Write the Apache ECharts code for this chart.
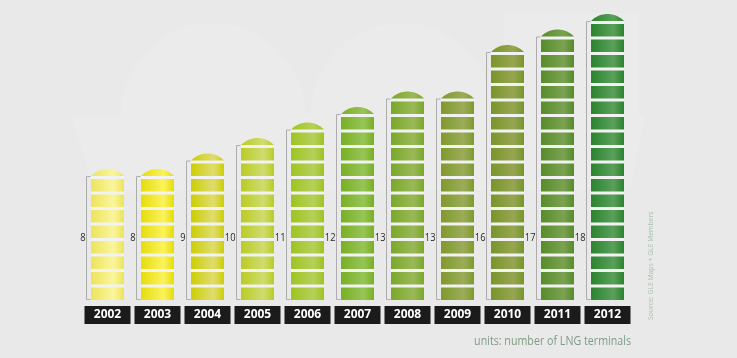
<!DOCTYPE html>
<html><head><meta charset="utf-8">
<script src="https://cdn.jsdelivr.net/npm/echarts@6/dist/echarts.min.js"></script>
<style>html,body{margin:0;padding:0;background:#e9e9e9;}#c{width:737px;height:358px;}</style>
</head><body><div id="c"></div>
<script>
var years = ['2002','2003','2004','2005','2006','2007','2008','2009','2010','2011','2012'];
var terminals = [8, 8, 9, 10, 11, 12, 13, 13, 16, 17, 18];
var baseColors = ['#ebe45c','#e6dc0c','#ccce04','#b9cc24','#9dc422','#78b022','#7aa82a','#7e9a2c','#7a942a','#568c2a','#2a8430'];
var lightColors = ['#fbf59c','#fbf35c','#e0dc70','#cfdc70','#b6d05a','#98c458','#9ab858','#9cac5a','#96a652','#7aa252','#5aa05a'];

var chart = echarts.init(document.getElementById('c'));

function renderItem(params, api) {
  var idx = api.value(0), v = api.value(1);
  var base = api.coord([idx, 0]);
  var top = api.coord([idx, v]);
  var unit = api.size([0, 1])[1];
  var w = 33, cx = base[0], left = cx - w / 2;
  var grad = {type:'linear', x:0, y:0, x2:1, y2:0, colorStops:[
    {offset:0, color: baseColors[idx]}, {offset:0.68, color: lightColors[idx]}, {offset:1, color: baseColors[idx]}]};
  var ch = [];
  ch.push({type:'rect', shape:{x:left, y:top[1], width:w, height:base[1]-top[1]}, style:{fill:'#f2f2f2'}});
  for (var i = 0; i < v; i++) {
    var y0 = base[1] - (i + 1) * unit;
    ch.push({type:'rect', shape:{x:left, y:y0 + 3, width:w, height:unit - 3}, style:{fill:grad}});
  }
  var s = 7, r = (w * w / 4 + s * s) / (2 * s);
  var ccy = top[1] - s + r;
  var th = Math.asin((w / 2) / r);
  var pts = [];
  for (var k = 0; k <= 24; k++) {
    var a = -th + 2 * th * k / 24;
    pts.push([cx + r * Math.sin(a), ccy - r * Math.cos(a)]);
  }
  ch.push({type:'polygon', shape:{points:pts}, style:{fill:grad}});
  var bx = left - 4.5;
  ch.push({type:'polyline', shape:{points:[[bx + 4, top[1] + 0.5], [bx, top[1] + 0.5], [bx, base[1] - 0.5], [bx + 4, base[1] - 0.5]]},
    style:{stroke:'#acacac', lineWidth:1, fill:null}});
  var ly = api.coord([idx, 4])[1];
  ch.push({type:'text', x:bx - 1, y:ly, scaleX:0.85, style:{x:0, y:0, text:String(terminals[idx]), fill:'#2a2a2a',
    font:'11px "Open Sans", sans-serif', align:'right', verticalAlign:'middle'}});
  return {type:'group', children:ch};
}

chart.setOption({
  backgroundColor:'#e9e9e9',
  animation:false,
  grid:{left:82.5, right:104.5, top:21, bottom:58},
  xAxis:{type:'category', data:years, axisLine:{show:false}, axisTick:{show:false},
    axisLabel:{margin:6, backgroundColor:'#1b1b1b', color:'#ffffff', fontFamily:'Open Sans', fontWeight:'bold',
      fontSize:12, width:46, height:18, lineHeight:18, align:'center'}},
  yAxis:{type:'value', min:0, max:18, show:false},
  series:[{type:'custom', renderItem:renderItem, data:years.map(function(y, i){return [i, terminals[i]];}), clip:false, z:5}],
  graphic:[
    {type:'rect', z:-1, silent:true, shape:{x:121, y:23, width:184, height:92, r:[92,92,0,0]}, style:{fill:'#ebebeb'}},
    {type:'rect', z:-1, silent:true, shape:{x:311, y:23, width:181, height:92, r:[90,90,0,0]}, style:{fill:'#ebebeb'}},
    {type:'rect', z:-1, silent:true, shape:{x:504, y:13, width:134, height:102}, style:{fill:'#ebebeb'}},
    {type:'polygon', z:-1, silent:true, shape:{points:[[71,115],[645,115],[630,190],[95,190]]}, style:{fill:'#ebebeb'}},
    {type:'text', x:651, y:320, rotation:Math.PI/2, scaleX:0.85, style:{text:'Source: GLE Maps + GLE Members', fill:'#a8c2ac',
      font:'8px "Open Sans", sans-serif', align:'left', verticalAlign:'middle'}},
    {type:'text', x:631, y:342, scaleX:0.89, style:{text:'units: number of LNG terminals', fill:'#7f9c84',
      font:'12px "Open Sans", sans-serif', align:'right', verticalAlign:'middle'}}
  ]
});
</script></body></html>
